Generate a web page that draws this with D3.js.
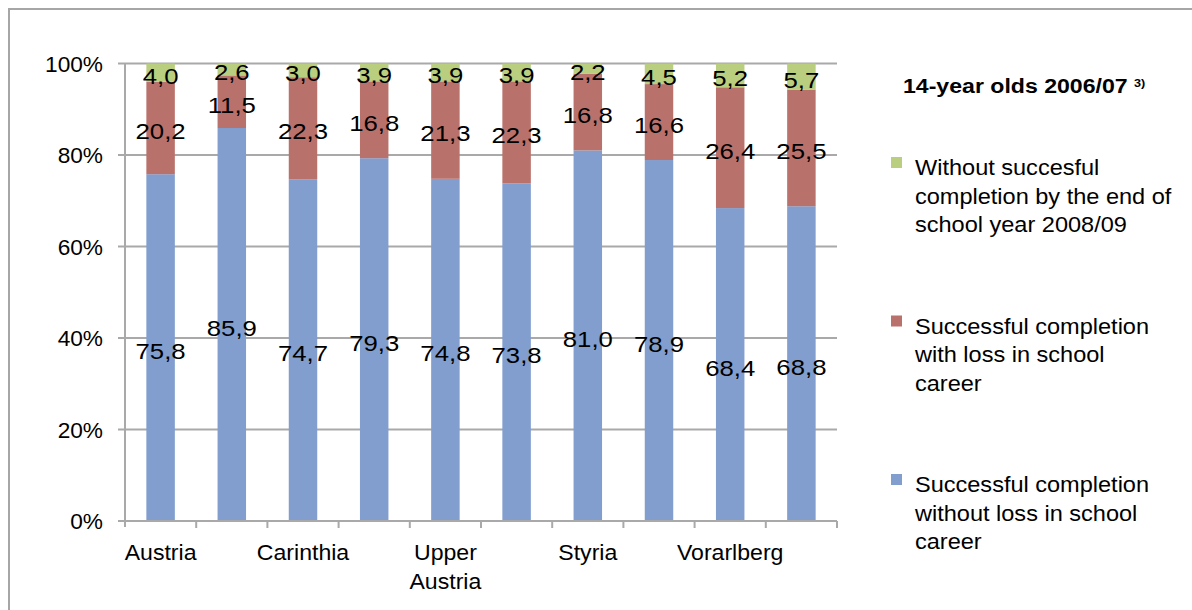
<!DOCTYPE html>
<html>
<head>
<meta charset="utf-8">
<script src="https://cdn.jsdelivr.net/npm/d3@7"></script>
<style>
  html, body { margin: 0; padding: 0; background: #ffffff; }
  svg { display: block; font-family: "Liberation Sans", Arial, sans-serif; }
</style>
</head>
<body>
<svg id="chart" width="1192" height="610"></svg>
<script>
// Federal provinces of Austria (every other name is printed on the axis)
const categories = ["Austria", "Burgenland", "Carinthia", "Lower Austria", "Upper Austria",
                    "Salzburg", "Styria", "Tyrol", "Vorarlberg", "Vienna"];
const axisLabels = [["Austria"], [], ["Carinthia"], [], ["Upper", "Austria"],
                    [], ["Styria"], [], ["Vorarlberg"], []];

// Shares of 14-year olds (2006/07), in percent
const withoutLoss = [75.8, 85.9, 74.7, 79.3, 74.8, 73.8, 81.0, 78.9, 68.4, 68.8];
const withLoss    = [20.2, 11.5, 22.3, 16.8, 21.3, 22.3, 16.8, 16.6, 26.4, 25.5];
const notDone     = [4.0, 2.6, 3.0, 3.9, 3.9, 3.9, 2.2, 4.5, 5.2, 5.7];

const yTicks = [0, 20, 40, 60, 80, 100];

const seriesNames = [
  ["Successful completion", "without loss in school", "career"],
  ["Successful completion", "with loss in school", "career"],
  ["Without succesful", "completion by the end of", "school year 2008/09"]
];
const seriesColors = ["#819ecf", "#b9716b", "#b9ce7e"];

const svg = d3.select("#chart");

// outer frame
svg.append("rect")
  .attr("x", 9).attr("y", 9).attr("width", 1200).attr("height", 620)
  .attr("fill", "none").attr("stroke", "#a6a6a6").attr("stroke-width", 2);

const plot = { left: 125, right: 837, top: 63.5, bottom: 521 };

const x = d3.scaleBand()
  .domain(categories)
  .range([plot.left, plot.right])
  .paddingInner(0.6)
  .paddingOuter(0.3);

const y = d3.scaleLinear().domain([0, 100]).range([plot.bottom, plot.top]);

// horizontal gridlines with small ticks left of the axis
svg.append("g").selectAll("line").data(yTicks).join("line")
  .attr("x1", plot.left - 7).attr("x2", plot.right)
  .attr("y1", d => y(d)).attr("y2", d => y(d))
  .attr("stroke", "#a9a9a9").attr("stroke-width", 2);

// text is drawn slightly stretched horizontally around its anchor
const scaledText = (sel, sx) => sel.attr("transform", function () {
  return d3.select(this).attr("data-t") + ` scale(${sx},1)`;
});

// y tick labels
svg.append("g").selectAll("text").data(yTicks).join("text")
  .attr("data-t", d => `translate(103,${y(d) + 8})`)
  .call(s => scaledText(s, 1.03))
  .attr("text-anchor", "end")
  .attr("font-size", 22)
  .attr("fill", "#000")
  .text(d => d + "%");

// stacked bars
const rows = categories.map((c, i) => ({
  cat: c, vals: [withoutLoss[i], withLoss[i], notDone[i]]
}));
const stackData = rows.map(r => {
  const total = d3.sum(r.vals);
  let acc = 0;
  return r.vals.map((v, k) => {
    const seg = { cat: r.cat, k, v, y0: acc / total * 100, y1: (acc + v) / total * 100 };
    acc += v;
    return seg;
  });
}).flat();

svg.append("g").selectAll("rect").data(stackData).join("rect")
  .attr("x", d => x(d.cat))
  .attr("width", x.bandwidth())
  .attr("y", d => y(d.y1))
  .attr("height", d => y(d.y0) - y(d.y1))
  .attr("fill", d => seriesColors[d.k]);

// y axis line
svg.append("line")
  .attr("x1", plot.left).attr("x2", plot.left)
  .attr("y1", plot.top).attr("y2", plot.bottom + 6)
  .attr("stroke", "#a9a9a9").attr("stroke-width", 2);

// x axis line and category boundary ticks
svg.append("line")
  .attr("x1", plot.left - 7).attr("x2", plot.right)
  .attr("y1", plot.bottom).attr("y2", plot.bottom)
  .attr("stroke", "#a9a9a9").attr("stroke-width", 2);

const step = x.step();
const boundaries = categories.map(c => x(c) + x.bandwidth() / 2 + step / 2);
svg.append("g").selectAll("line").data(boundaries).join("line")
  .attr("x1", d => d).attr("x2", d => d)
  .attr("y1", plot.bottom).attr("y2", plot.bottom + 7)
  .attr("stroke", "#a9a9a9").attr("stroke-width", 2);

// category labels
const catG = svg.append("g");
categories.forEach((c, i) => {
  axisLabels[i].forEach((line, j) => {
    catG.append("text")
      .attr("data-t", `translate(${x(c) + x.bandwidth() / 2},${560 + j * 28.5})`)
      .call(s => scaledText(s, 1.05))
      .attr("text-anchor", "middle")
      .attr("font-size", 22)
      .attr("fill", "#000")
      .text(line);
  });
});

// value labels centred in each segment
const fmt = v => v.toFixed(1).replace(".", ",");
svg.append("g").selectAll("text").data(stackData).join("text")
  .attr("data-t", d => `translate(${x(d.cat) + x.bandwidth() / 2},${(y(d.y0) + y(d.y1)) / 2 + 11})`)
  .call(s => scaledText(s, 1.12))
  .attr("text-anchor", "middle")
  .attr("font-size", 23)
  .attr("fill", "#000")
  .text(d => fmt(d.v));

// legend title
const title = svg.append("text")
  .attr("data-t", "translate(903,93)")
  .call(s => scaledText(s, 1.1))
  .attr("font-size", 21)
  .attr("font-weight", "bold")
  .attr("fill", "#000");
title.append("tspan").text("14-year olds 2006/07 ");
title.append("tspan").attr("font-size", 11.5).attr("dy", -6).text("3)");

// legend entries, top entry is the top stack segment
const legendOrder = [2, 1, 0];
const legend = svg.append("g");
legendOrder.forEach((k, idx) => {
  const top = 157 + idx * 158.5;
  legend.append("rect")
    .attr("x", 891).attr("y", top).attr("width", 11).attr("height", 11)
    .attr("fill", seriesColors[k]);
  seriesNames[k].forEach((line, j) => {
    legend.append("text")
      .attr("data-t", `translate(915,${top + 18 + j * 28.5})`)
      .call(s => scaledText(s, 1.07))
      .attr("font-size", 22)
      .attr("fill", "#000")
      .text(line);
  });
});
</script>
</body>
</html>
